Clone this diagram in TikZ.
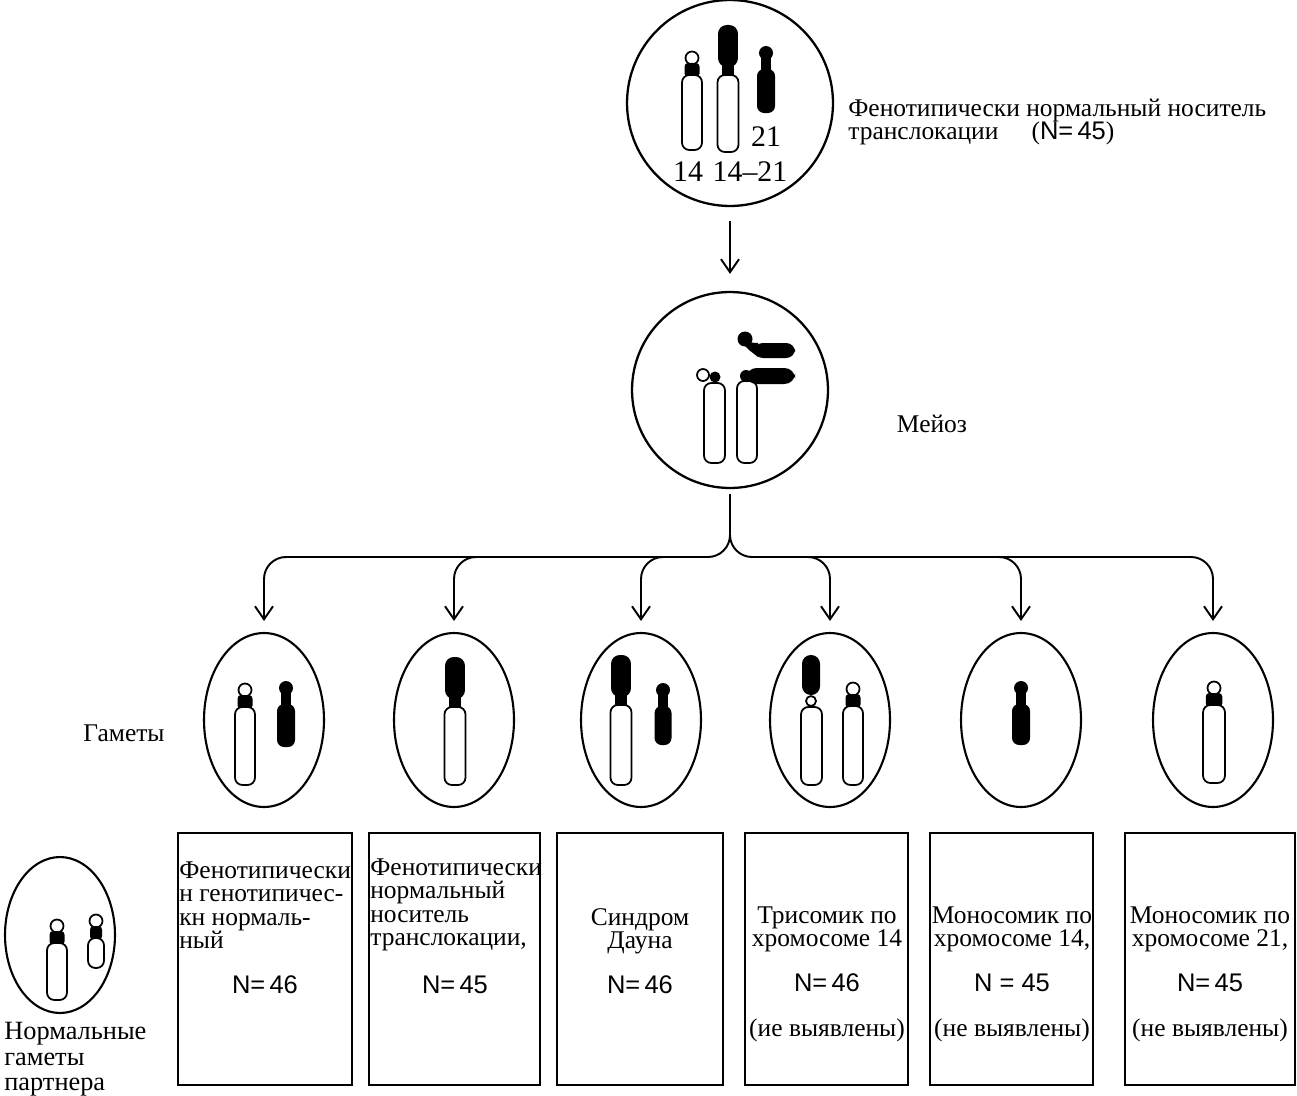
\documentclass[tikz,border=0pt]{standalone}
\usepackage{fontspec}
\setmainfont{Liberation Serif}
\newfontfamily\nsans{Liberation Sans}
\usetikzlibrary{arrows.meta,shapes.geometric}

\tikzset{
  cell/.style={circle, draw, line width=1.3pt, inner sep=0pt},
  gamete/.style={ellipse, draw, line width=1.2pt, inner sep=0pt,
    minimum width=2.4cm, minimum height=3.48cm},
  result/.style={draw, line width=1pt, inner sep=0pt, minimum height=5.04cm},
  chrom/.style={draw, fill=white, line width=1pt, rounded corners=4.2pt},
  txt/.style={font=\fontsize{14.5}{13.4}\selectfont, inner sep=0pt, align=center},
  arr/.style={->, line width=1.1pt},
}

% chromosome with a light satellite on top
\newcommand{\satchrom}[4]{% x, satellite y, lower end, half width
  \draw[line width=1pt] (#1,#2) circle (0.13cm);
  \fill[rounded corners=2pt] (#1-0.75*#4,#2+5) rectangle (#1+0.75*#4,#2+19);
  \draw[chrom] (#1-#4,#2+17) rectangle (#1+#4,#3);
}
% small dark chromosome (21)
\newcommand{\darkchrom}[4]{% x, head y, lower end, half width
  \fill (#1,#2) circle (0.14cm);
  \fill (#1-0.6*#4,#2) rectangle (#1+0.6*#4,#2+20);
  \fill[rounded corners=4pt] (#1-#4,#2+16) rectangle (#1+#4,#3);
}
% fused chromosome: dark 21 part above, light 14 part below
\newcommand{\transchrom}[4]{% x, upper end, lower end, half width
  \fill[rounded corners=5pt] (#1-0.95*#4,#2) rectangle (#1+0.95*#4,#2+42);
  \fill (#1-0.6*#4,#2+36) rectangle (#1+0.6*#4,#2+52);
  \draw[chrom] (#1-#4,#2+50) rectangle (#1+#4,#3);
}

\begin{document}
\begin{tikzpicture}[x=0.02cm, y=-0.02cm, >={Straight Barb[length=2.6mm,width=3.6mm]}]
\useasboundingbox (0,0) rectangle (1297,1095);

% carrier
\node[cell, minimum size=4.12cm] (carrier) at (730,103) {};
\satchrom{692}{58}{150}{10}
\transchrom{728}{25}{152}{10.5}
\darkchrom{766}{53}{113}{9}
\node[txt, font=\fontsize{17}{17}\selectfont] (c21) at (766,137) {21};
\node[txt, font=\fontsize{17}{17}\selectfont] (c14) at (688,172) {14};
\node[txt, font=\fontsize{17}{17}\selectfont] (c1421) at (750,172) {14--21};
\node[txt, align=left, anchor=west] (carriertxt) at (848,122)
  {Фенотипически нормальный носитель\\транслокации\hspace{1.3em}({\nsans N=\,45})};

% meiosis
\node[cell, minimum size=3.92cm] (meio) at (730,390) {};
\draw[chrom] (704,383) rectangle (725,463);
\draw[line width=1pt] (703,375) circle (0.12cm);
\fill (715,377) circle (0.11cm);
\draw[chrom] (737,381) rectangle (757,463);
\fill (746,376) circle (0.12cm);
\fill[rounded corners=6pt] (746,368) rectangle (795,384);
\fill (745,339) circle (0.15cm);
\fill (741,342) -- (758,343) -- (758,357) -- (749,350) -- cycle;
\fill[rounded corners=5pt] (754,343) rectangle (795,358);
\node[txt] (meiotxt) at (932,424) {Мейоз};

\draw[arr, shorten <=0.28cm, shorten >=0.34cm] (carrier) -- (meio);

% gametes
\foreach \i/\x in {1/264,2/454,3/641,4/830,5/1021,6/1213}
  \node[gamete] (g\i) at (\x,720) {};
\node[txt] (gtxt) at (124,733) {Гаметы};

\satchrom{245}{690}{785}{10}
\darkchrom{286}{688}{747}{9}
\transchrom{455}{657}{785}{10.5}
\transchrom{621}{655}{785}{10.5}
\darkchrom{663}{690}{745}{8.5}
\fill[rounded corners=5pt] (802,655) rectangle (820,695);
\draw[line width=1pt] (811,701) circle (0.1cm);
\draw[chrom] (801,707) rectangle (822,785);
\satchrom{853}{689}{785}{10}
\darkchrom{1021}{688}{745}{9}
\satchrom{1214}{688}{783}{11}

% branching arrows
\coordinate (bar) at (730,557);
\draw[arr, rounded corners=0.44cm, shorten <=0.1cm, shorten >=0.22cm] (meio.south) -- (bar) -| (g1.north);
\draw[arr, rounded corners=0.44cm, shorten <=0.1cm, shorten >=0.22cm] (meio.south) -- (bar) -| (g6.north);
\coordinate (s2) at (480,557);
\coordinate (s3) at (667,557);
\coordinate (s4) at (804,557);
\coordinate (s5) at (995,557);
\draw[arr, rounded corners=0.44cm, shorten >=0.22cm] (s2) -| (g2.north);
\draw[arr, rounded corners=0.44cm, shorten >=0.22cm] (s3) -| (g3.north);
\draw[arr, rounded corners=0.44cm, shorten >=0.22cm] (s4) -| (g4.north);
\draw[arr, rounded corners=0.44cm, shorten >=0.22cm] (s5) -| (g5.north);

% partner gamete
\node[gamete, minimum width=2.2cm, minimum height=3.12cm] (partner) at (60,935) {};
\satchrom{57}{926}{1000}{10}
\satchrom{96}{921}{968}{8}
\node[txt, align=left, anchor=north west, font=\fontsize{15}{14.5}\selectfont] (ptxt) at (4,1022)
  {Нормальные\\гаметы\\партнера};

% offspring
\foreach \i/\x/\w in {1/265/3.48, 2/454.5/3.42, 3/640/3.32, 4/826.5/3.26, 5/1011.5/3.26, 6/1210/3.4}
  \node[result, minimum width=\w cm] (b\i) at (\x,959) {};

\node[txt, align=left, anchor=west] (t1) at (179,905)
  {Фенотипически\\н генотипичес-\\кн нормаль-\\ный};
\node[txt] (n1) at (265,985) {\nsans N=\,46};
\node[txt, align=left, anchor=west] (t2) at (370,905)
  {Фенотипически\\нормальный\\носитель\\транслокации,};
\node[txt] (n2) at (455,985) {\nsans N=\,45};
\node[txt] (t3) at (640,951) {Синдром\\Дауна\\[12pt]{\nsans N=\,46}};
\node[txt] (t4) at (827,974) {Трисомик по\\хромосоме 14\\[12pt]{\nsans N=\,46}\\[12pt](ие выявлены)};
\node[txt] (t5) at (1012,974) {Моносомик по\\хромосоме 14,\\[12pt]{\nsans N = 45}\\[12pt](не выявлены)};
\node[txt] (t6) at (1210,974) {Моносомик по\\хромосоме 21,\\[12pt]{\nsans N=\,45}\\[12pt](не выявлены)};
\end{tikzpicture}
\end{document}
